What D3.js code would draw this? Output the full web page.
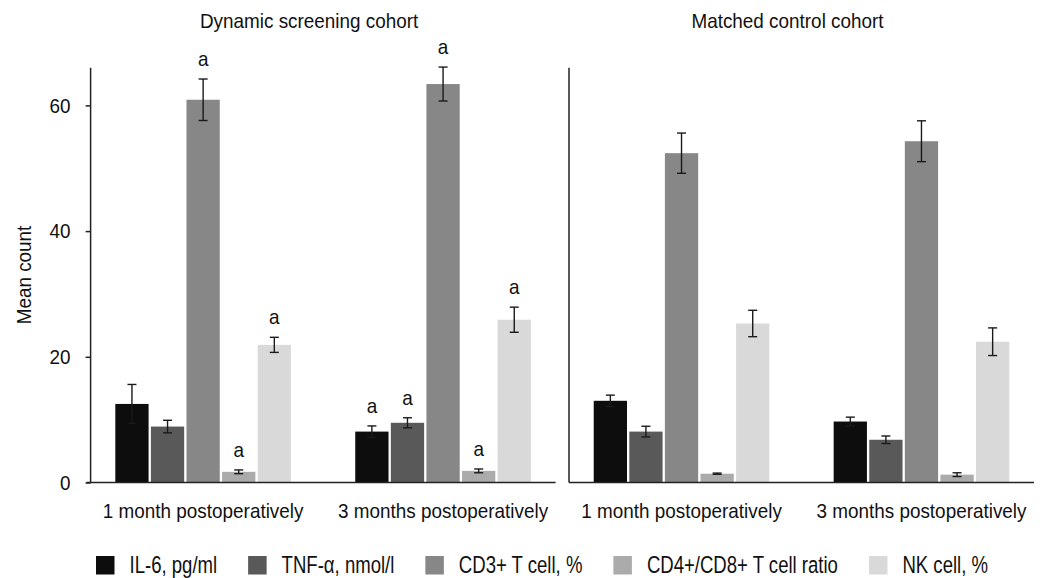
<!DOCTYPE html>
<html>
<head>
<meta charset="utf-8">
<script src="https://cdn.jsdelivr.net/npm/d3@7"></script>
<style>
  body { margin: 0; background: #fff; }
  svg text { font-family: "Liberation Sans", Arial, sans-serif; fill: #111; }
</style>
</head>
<body>
<svg id="chart" width="1054" height="578"></svg>
<script>
// data
var cohorts = ["Dynamic screening cohort", "Matched control cohort"];
var timepoints = ["1 month postoperatively", "3 months postoperatively"];
var series = ["IL-6, pg/ml", "TNF-\u03b1, nmol/l", "CD3+ T cell, %", "CD4+/CD8+ T cell ratio", "NK cell, %"];
var colors = ["#0d0d0d", "#595959", "#878787", "#ababab", "#d9d9d9"];
var yTicks = [0, 20, 40, 60];

// means, one array per timepoint (order = series)
var dynMonth1 = [12.5, 8.9, 60.9, 1.7, 21.9];
var dynMonth3 = [8.1, 9.5, 63.4, 1.85, 25.9];
var ctlMonth1 = [13.0, 8.1, 52.4, 1.4, 25.3];
var ctlMonth3 = [9.7, 6.8, 54.3, 1.25, 22.4];

// error bar half-widths
var dynErr1 = [3.1, 1.0, 3.3, 0.3, 1.2];
var dynErr3 = [0.9, 0.8, 2.7, 0.3, 2.0];
var ctlErr1 = [0.9, 0.85, 3.2, 0.1, 2.1];
var ctlErr3 = [0.7, 0.6, 3.25, 0.3, 2.2];

// significance marks
var dynSig1 = ["", "", "a", "a", "a"];
var dynSig3 = ["a", "a", "a", "a", "a"];
var ctlSig1 = ["", "", "", "", ""];
var ctlSig3 = ["", "", "", "", ""];

var panels = [
  {title: cohorts[0], means: [dynMonth1, dynMonth3], errs: [dynErr1, dynErr3], sig: [dynSig1, dynSig3]},
  {title: cohorts[1], means: [ctlMonth1, ctlMonth3], errs: [ctlErr1, ctlErr3], sig: [ctlSig1, ctlSig3]}
];

var svg = d3.select("#chart");
// no condensed face installed, so text is squeezed horizontally
var FS = 21, SX = 0.9;        // titles, axis and category labels
var LFS = 23.5, LSX = 0.79;   // legend
var panelX = [90.6, 569];
var panelW = 465;

var label = function(sel, x, y, str, anchor, rot, fs, sx){
  fs = fs || FS; sx = sx || SX;
  return sel.append("text")
    .attr("transform", "translate(" + x + "," + y + ")" + (rot ? " rotate(" + rot + ")" : "") + " scale(" + sx + ",1)")
    .attr("text-anchor", anchor || "middle")
    .style("font-size", fs + "px")
    .text(str);
}

var y = d3.scaleLinear().domain([0, 66]).range([482.5, 67.7]);

var x0 = d3.scaleBand().domain(timepoints)
    .range([0, panelW]).paddingInner(0.268).paddingOuter(0.103);
var x1 = d3.scaleBand().domain(series)
    .range([0, x0.bandwidth()]).paddingInner(0.065);

panels.forEach(function(p, pi){
  var g = svg.append("g").attr("transform", "translate(" + panelX[pi] + ",0)");

  label(g, panelW / 2 - 14, 28, p.title);

  timepoints.forEach(function(tp, ti){
    var rows = series.map(function(s, si){
      return {s: s, v: p.means[ti][si], e: p.errs[ti][si], a: p.sig[ti][si], c: colors[si]};
    });
    var grp = g.append("g").attr("transform", "translate(" + x0(tp) + ",0)");

    grp.selectAll("rect").data(rows).enter().append("rect")
      .attr("x", function(d){ return x1(d.s); })
      .attr("y", function(d){ return y(d.v); })
      .attr("width", x1.bandwidth())
      .attr("height", function(d){ return y(0) - y(d.v); })
      .attr("fill", function(d){ return d.c; });

    var eb = grp.selectAll("g.err").data(rows).enter().append("g")
      .attr("class", "err")
      .attr("transform", function(d){ return "translate(" + (x1(d.s) + x1.bandwidth() / 2) + ",0)"; })
      .attr("stroke", "#1a1a1a").attr("stroke-width", 1.4);
    eb.append("line")
      .attr("y1", function(d){ return y(d.v + d.e); })
      .attr("y2", function(d){ return y(d.v - d.e); });
    eb.append("line").attr("x1", -4.5).attr("x2", 4.5)
      .attr("y1", function(d){ return y(d.v + d.e); })
      .attr("y2", function(d){ return y(d.v + d.e); });
    eb.append("line").attr("x1", -4.5).attr("x2", 4.5)
      .attr("y1", function(d){ return y(d.v - d.e); })
      .attr("y2", function(d){ return y(d.v - d.e); });

    rows.forEach(function(d){
      if (d.a) label(grp, x1(d.s) + x1.bandwidth() / 2, y(d.v + d.e) - 13, d.a);
    });

    label(g, x0(tp) + x0.bandwidth() / 2, 518, tp);
  });

  // axes
  g.append("line")
    .attr("x1", 0).attr("x2", 0)
    .attr("y1", y(0)).attr("y2", y.range()[1])
    .attr("stroke", "#222").attr("stroke-width", 1.5);
  g.append("line")
    .attr("x1", pi == 0 ? -4 : 0).attr("x2", panelW)
    .attr("y1", y(0)).attr("y2", y(0))
    .attr("stroke", "#222").attr("stroke-width", 1.5);

  if (pi == 0) {
    var ax = g.append("g")
      .attr("font-family", null).attr("font-size", null)
      .call(d3.axisLeft(y).tickValues(yTicks).tickSize(5).tickPadding(15).tickSizeOuter(0));
    ax.select(".domain").remove();
    ax.selectAll(".tick line").attr("stroke", "#222").attr("stroke-width", 1.5);
    ax.selectAll(".tick text")
      .attr("fill", "#111")
      .attr("x", null)
      .attr("transform", "translate(-20,0) scale(" + SX + ",1)")
      .style("font-size", FS + "px");
  }
});

label(svg, 31, 275, "Mean count", "middle", -90);

// legend, laid out by measured text widths and centred
var leg = svg.append("g");
var cx = 0;
series.forEach(function(s, i){
  var it = leg.append("g").attr("transform", "translate(" + cx + ",0)");
  it.append("rect")
    .attr("width", 18.5).attr("height", 18.5)
    .attr("y", 556)
    .attr("fill", colors[i]);
  var t = label(it, 33.5, 573, s, "start", 0, LFS, LSX);
  cx += 33.5 + t.node().getComputedTextLength() * LSX + 31;
});
var legW = cx - 31;
leg.attr("transform", "translate(" + (542 - legW / 2) + ",0)");
</script>
</body>
</html>
